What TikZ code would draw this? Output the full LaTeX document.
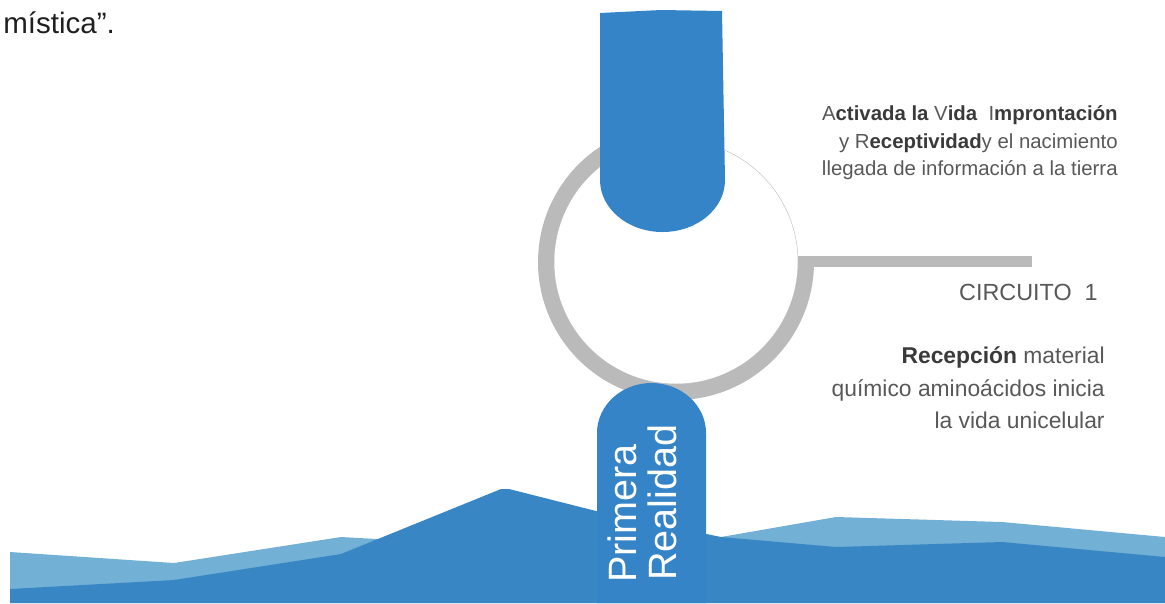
\documentclass[tikz,border=0pt]{standalone}
\usepackage{fontspec}
\setmainfont{Liberation Sans}
\usetikzlibrary{positioning}
\definecolor{bluebox}{RGB}{53,132,199}
\definecolor{mountdark}{RGB}{57,134,196}
\definecolor{mountlight}{RGB}{114,176,213}
\definecolor{ringgray}{RGB}{186,186,186}
\definecolor{txtgray}{RGB}{88,88,88}
\definecolor{txtdark}{RGB}{58,58,58}
\newcommand{\negr}[1]{{\color{txtdark}\bfseries #1}}
\tikzset{
  linetext/.style={anchor=base east, inner sep=0pt, text=txtgray},
  small/.style={font=\fontsize{11.6}{14}\selectfont},
  mid/.style={font=\fontsize{13}{15}\selectfont},
  realidad/.style={anchor=base west, inner sep=0pt, rotate=90, text=white,
    font=\fontsize{22.5}{26}\selectfont},
  ring/.style={draw=ringgray, line width=16*0.02cm}
}

\begin{document}
\begin{tikzpicture}[x=0.02cm, y=-0.02cm]
\useasboundingbox (0,0) rectangle (1165,603);

\node[anchor=base west, inner sep=0pt, text=black!88, font=\fontsize{16.8}{19}\selectfont]
  (mistica) at (3,33) {mística”.};

% circle
\coordinate (c) at (676,262);
\fill[white, draw=black!22, line width=0.3pt] (c) circle[radius=122];
\draw[ring] (c) ++(130,0) arc[start angle=0, end angle=248, radius=130];
\fill[ringgray] (798,256) rectangle (1032,267);

% top tab
\fill[bluebox] (600,13) -- (661,10) -- (722,11) -- (725,180)
  arc[start angle=0, end angle=180, x radius=62.5, y radius=52] -- cycle;

% mountains
\fill[mountlight] (10,603) -- (10,552) -- (174,563) -- (341,537) -- (377,539)
  -- (600,545) -- (721,537) -- (836,517) -- (1002,522) -- (1165,537) -- (1165,603) -- cycle;
\fill[mountdark] (10,603) -- (10,589) -- (174,580) -- (341,554) -- (501,489) -- (509,489)
  -- (600,512) -- (721,537) -- (836,547) -- (1002,542) -- (1165,557) -- (1165,603) -- cycle;

% bottom tab
\fill[bluebox] (597,603) -- (597,433)
  arc[start angle=180, end angle=360, x radius=54.5, y radius=50] -- (706,603) -- cycle;
\node[realidad] (prim) at (636,583) {Primera};
\node[realidad] (real) at (676,581) {Realidad};

% texts
\node[linetext, small] (act1) at (1118,120) {A\negr{ctivada la} V\negr{ida}\ \ I\negr{mprontación}};
\node[linetext, small] (act2) at (1118,148) {y R\negr{eceptividad}y el nacimiento};
\node[linetext, small] (act3) at (1118,175) {llegada de información a la tierra};

\node[linetext, font=\fontsize{13.3}{16}\selectfont] (circ) at (1098,300) {CIRCUITO\ \ 1};

\node[linetext, mid] (rec1) at (1105,363) {\negr{Recepción} material};
\node[linetext, mid] (rec2) at (1105,396) {químico aminoácidos inicia};
\node[linetext, mid] (rec3) at (1105,428) {la vida unicelular};
\end{tikzpicture}
\end{document}
